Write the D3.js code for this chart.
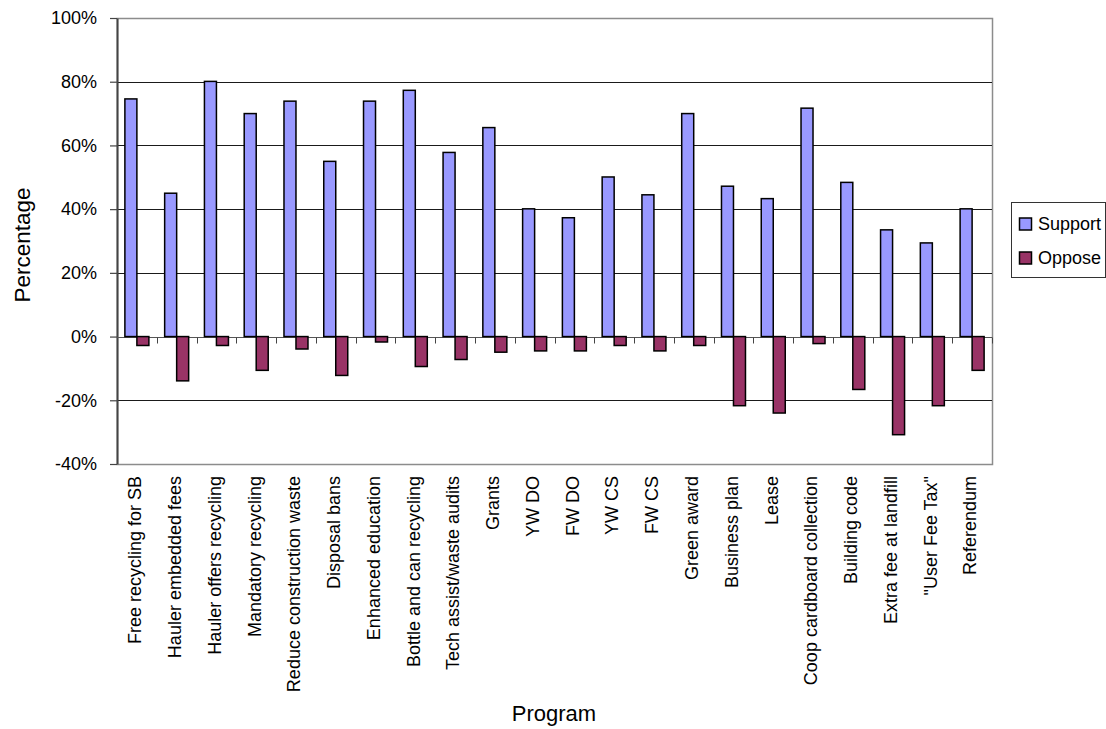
<!DOCTYPE html>
<html>
<head>
<meta charset="utf-8">
<script src="https://cdn.jsdelivr.net/npm/d3@7"></script>
<style>
  html, body { margin: 0; padding: 0; background: #fff; }
  svg { display: block; font-family: "Liberation Sans", Arial, sans-serif; }
</style>
</head>
<body>
<svg id="chart" width="1106" height="729"></svg>
<script>
// Programs surveyed, in display order
const programs = [
  "Free recycling for SB", "Hauler embedded fees", "Hauler offers recycling",
  "Mandatory recycling", "Reduce construction waste", "Disposal bans",
  "Enhanced education", "Bottle and can recycling", "Tech assist/waste audits",
  "Grants", "YW DO", "FW DO", "YW CS", "FW CS", "Green award",
  "Business plan", "Lease", "Coop cardboard collection", "Building code",
  "Extra fee at landfill", "\"User Fee Tax\"", "Referendum"
];
// Share of respondents (percent)
const support = [74.6, 45.0, 80.1, 70.0, 73.9, 55.0, 73.9, 77.3, 57.8, 65.6, 40.1,
                 37.3, 50.1, 44.5, 70.0, 47.2, 43.3, 71.7, 48.4, 33.5, 29.4, 40.1];
const oppose  = [-2.8, -13.9, -2.8, -10.6, -3.9, -12.2, -1.7, -9.4, -7.2, -4.9, -4.5,
                 -4.5, -2.8, -4.5, -2.8, -21.7, -24.0, -2.2, -16.6, -30.8, -21.7, -10.6];
const yTicks = [-40, -20, 0, 20, 40, 60, 80, 100];
const seriesNames = ["Support", "Oppose"];
const seriesColors = ["#9999FF", "#993366"];

const svg = d3.select("#chart");
const plot = { left: 117, right: 992, top: 18, bottom: 464 };

const x = d3.scaleBand().domain(programs).range([plot.left, plot.right]).paddingInner(0).paddingOuter(0);
const y = d3.scaleLinear().domain([-40, 100]).range([plot.bottom, plot.top]);
const barW = 12;

// plot frame
svg.append("rect")
  .attr("x", plot.left + 0.5).attr("y", plot.top + 0.5)
  .attr("width", plot.right - plot.left).attr("height", plot.bottom - plot.top)
  .attr("fill", "#fff").attr("stroke", "#8c8c8c").attr("stroke-width", 1.5);

// horizontal gridlines
svg.append("g").selectAll("line")
  .data(yTicks.filter(t => t !== -40 && t !== 0 && t !== 100))
  .join("line")
  .attr("x1", plot.left).attr("x2", plot.right)
  .attr("y1", d => Math.round(y(d)) + 0.5).attr("y2", d => Math.round(y(d)) + 0.5)
  .attr("stroke", "#1a1a1a").attr("stroke-width", 1);

// y axis
const yAxis = svg.append("g")
  .attr("transform", `translate(${plot.left},0)`)
  .call(d3.axisLeft(y).tickValues(yTicks).tickFormat(d => d + "%")
    .tickSize(7).tickSizeOuter(0).tickPadding(13));
yAxis.select(".domain").attr("stroke", "#444").attr("stroke-width", 2);
yAxis.selectAll(".tick line").attr("stroke", "#444").attr("stroke-width", 1.2);
yAxis.selectAll("text").attr("font-size", 18).attr("fill", "#000")
  .attr("font-family", "'Liberation Sans', Arial, sans-serif");

// zero line with category ticks
const zeroY = Math.round(y(0)) + 0.5;
svg.append("line")
  .attr("x1", plot.left).attr("x2", plot.right)
  .attr("y1", zeroY).attr("y2", zeroY)
  .attr("stroke", "#555").attr("stroke-width", 1);
svg.append("g").selectAll("line")
  .data(programs.slice(1).concat(["__end"]))
  .join("line")
  .attr("x1", (d, i) => Math.round(plot.left + x.bandwidth() * (i + 1)) + 0.5)
  .attr("x2", (d, i) => Math.round(plot.left + x.bandwidth() * (i + 1)) + 0.5)
  .attr("y1", zeroY).attr("y2", zeroY + 6)
  .attr("stroke", "#444").attr("stroke-width", 1);

// bars
const groups = svg.append("g").selectAll("g")
  .data(programs)
  .join("g")
  .attr("transform", d => `translate(${x(d) + x.bandwidth() / 2},0)`);

groups.append("rect")
  .attr("x", -barW)
  .attr("y", (d, i) => y(support[i]))
  .attr("width", barW)
  .attr("height", (d, i) => y(0) - y(support[i]))
  .attr("fill", seriesColors[0]).attr("stroke", "#000").attr("stroke-width", 1.5);

groups.append("rect")
  .attr("x", 0)
  .attr("y", y(0))
  .attr("width", barW)
  .attr("height", (d, i) => y(oppose[i]) - y(0))
  .attr("fill", seriesColors[1]).attr("stroke", "#000").attr("stroke-width", 1.5);

// category labels
svg.append("g").selectAll("text")
  .data(programs)
  .join("text")
  .attr("transform", d => `translate(${x(d) + x.bandwidth() / 2 - 2},${plot.bottom + 12}) rotate(-90)`)
  .attr("text-anchor", "end")
  .attr("dy", "0.35em")
  .attr("font-size", 18)
  .text(d => d);

// axis titles
svg.append("text")
  .attr("transform", "translate(30,245) rotate(-90)")
  .attr("text-anchor", "middle")
  .attr("font-size", 22.5)
  .text("Percentage");
svg.append("text")
  .attr("x", 554).attr("y", 721)
  .attr("text-anchor", "middle")
  .attr("font-size", 22)
  .text("Program");

// legend
const legend = svg.append("g");
legend.append("rect")
  .attr("x", 1011.5).attr("y", 202.5).attr("width", 94).attr("height", 75)
  .attr("fill", "#fff").attr("stroke", "#333").attr("stroke-width", 1);
seriesNames.forEach((name, i) => {
  const cy = 224 + i * 34;
  legend.append("rect")
    .attr("x", 1019.5).attr("y", cy - 6).attr("width", 12).attr("height", 12)
    .attr("fill", seriesColors[i]).attr("stroke", "#000").attr("stroke-width", 1.5);
  legend.append("text")
    .attr("x", 1038).attr("y", cy).attr("dy", "0.35em")
    .attr("font-size", 18)
    .text(name);
});
</script>
</body>
</html>
